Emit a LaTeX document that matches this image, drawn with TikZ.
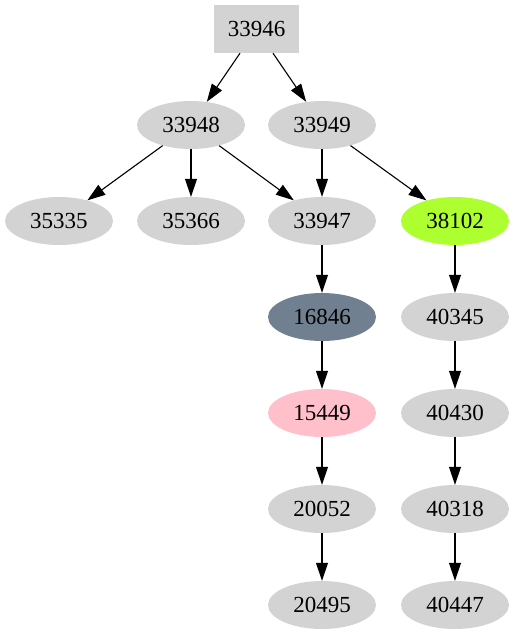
\documentclass[tikz,border=0pt]{standalone}
\usepackage{fontspec}
\setmainfont{Liberation Serif}
\usetikzlibrary{arrows.meta,shapes.geometric}
\definecolor{lgray}{HTML}{D3D3D3}
\definecolor{gyellow}{HTML}{ADFF2F}
\definecolor{sgray}{HTML}{708090}
\definecolor{pinkc}{HTML}{FFC0CB}
\begin{document}
\begin{tikzpicture}[x=1pt,y=1pt,
  every node/.style={font=\fontsize{23}{27}\selectfont, inner sep=0pt},
  nd/.style={ellipse, fill=lgray, minimum width=108pt, minimum height=48pt},
  bx/.style={rectangle, fill=lgray, minimum width=85pt, minimum height=48pt},
  edge/.style={draw=black, line width=1.1pt, -{Triangle[length=18pt,width=12pt]}}]
\useasboundingbox (0,0) rectangle (514,-635);
\node[bx] (n33946) at (256.5,-29) {33946};
\node[nd] (n33948) at (191,-125) {33948};
\node[nd] (n33949) at (322,-125) {33949};
\node[nd] (n35335) at (59,-221) {35335};
\node[nd] (n35366) at (191,-221) {35366};
\node[nd] (n33947) at (322,-221) {33947};
\node[nd, fill=gyellow] (n38102) at (455,-221) {38102};
\node[nd, fill=sgray] (n16846) at (322,-317) {16846};
\node[nd] (n40345) at (455,-317) {40345};
\node[nd, fill=pinkc] (n15449) at (322,-413) {15449};
\node[nd] (n40430) at (455,-413) {40430};
\node[nd] (n20052) at (322,-509) {20052};
\node[nd] (n40318) at (455,-509) {40318};
\node[nd] (n20495) at (322,-605) {20495};
\node[nd] (n40447) at (455,-605) {40447};
\draw[edge] (n33946) -- (n33948);
\draw[edge] (n33946) -- (n33949);
\draw[edge] (n33948) -- (n35335);
\draw[edge] (n33948) -- (n35366);
\draw[edge] (n33948) -- (n33947);
\draw[edge] (n33949) -- (n33947);
\draw[edge] (n33949) -- (n38102);
\draw[edge] (n33947) -- (n16846);
\draw[edge] (n16846) -- (n15449);
\draw[edge] (n15449) -- (n20052);
\draw[edge] (n20052) -- (n20495);
\draw[edge] (n38102) -- (n40345);
\draw[edge] (n40345) -- (n40430);
\draw[edge] (n40430) -- (n40318);
\draw[edge] (n40318) -- (n40447);
\end{tikzpicture}
\end{document}
